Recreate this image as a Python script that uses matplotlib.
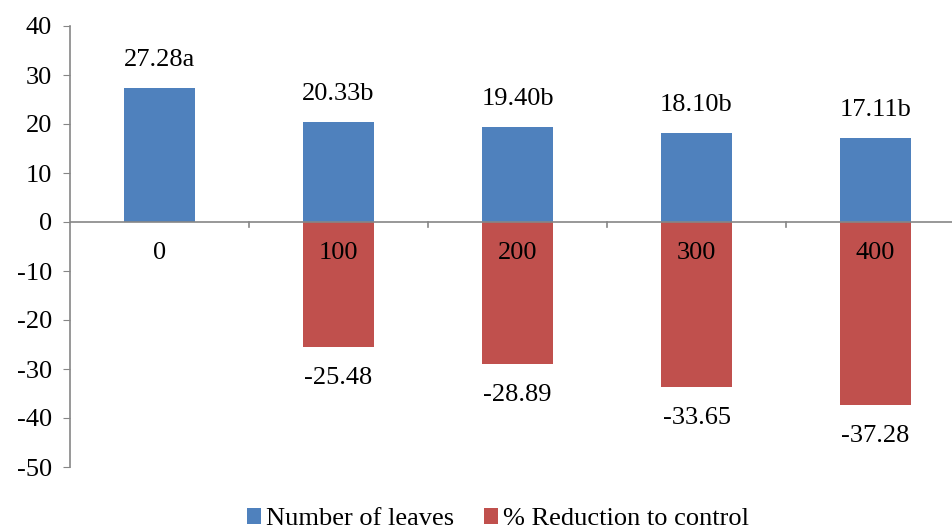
import matplotlib.pyplot as plt
import numpy as np

plt.rcParams['font.family'] = ['Liberation Serif', 'DejaVu Serif']
plt.rcParams['axes.unicode_minus'] = False

categories = ['0', '100', '200', '300', '400']
leaves = [27.28, 20.33, 19.40, 18.10, 17.11]
leaf_labels = ['27.28a', '20.33b', '19.40b', '18.10b', '17.11b']
reduction = [0, -25.48, -28.89, -33.65, -37.28]
red_labels = ['', '-25.48', '-28.89', '-33.65', '-37.28']

blue = '#4F81BD'
red = '#C0504D'
gray = '#868686'
fs = 19

fig = plt.figure(figsize=(9.53, 5.32), dpi=100)
ax = fig.add_axes([70 / 953, (532 - 467) / 532, 895 / 953, 441 / 532])

x = np.arange(len(categories))
ax.bar(x, leaves, width=0.4, color=blue, label='Number of leaves', zorder=2)
ax.bar(x, reduction, width=0.4, color=red, label='% Reduction to control', zorder=2)

for xi, v, t in zip(x, leaves, leaf_labels):
    ax.text(xi, v + 5.8, t, ha='center', va='center', fontsize=fs)
for xi, v, t in zip(x, reduction, red_labels):
    if t:
        ax.text(xi, v - 6.4, t, ha='center', va='center', fontsize=fs)
for xi, c in zip(x, categories):
    ax.text(xi, -6.3, c, ha='center', va='center', fontsize=fs, zorder=3)

ax.set_xlim(-0.5, len(categories) - 0.5)
ax.set_ylim(-50, 40)
ax.set_yticks(range(-50, 41, 10))
ax.tick_params(axis='y', labelsize=fs, color=gray, length=5, pad=8)

ax.axhline(0, color=gray, lw=1.2, zorder=3)
ax.set_xticks([])
for b in np.arange(0.5, len(categories) - 0.5, 1.0):
    ax.plot([b, b], [0, -1.0], color=gray, lw=1.2, zorder=3, clip_on=False)

for s in ['top', 'right', 'bottom']:
    ax.spines[s].set_visible(False)
ax.spines['left'].set_color(gray)
ax.spines['left'].set_linewidth(1.2)

fig.legend(loc='center', bbox_to_anchor=(498 / 953, 1 - 519 / 532), ncol=2, frameon=False,
           fontsize=fs, handlelength=0.55, handleheight=0.55, handletextpad=0.2,
           columnspacing=1.1, borderpad=0)

fig.savefig('out.png', dpi=100)
